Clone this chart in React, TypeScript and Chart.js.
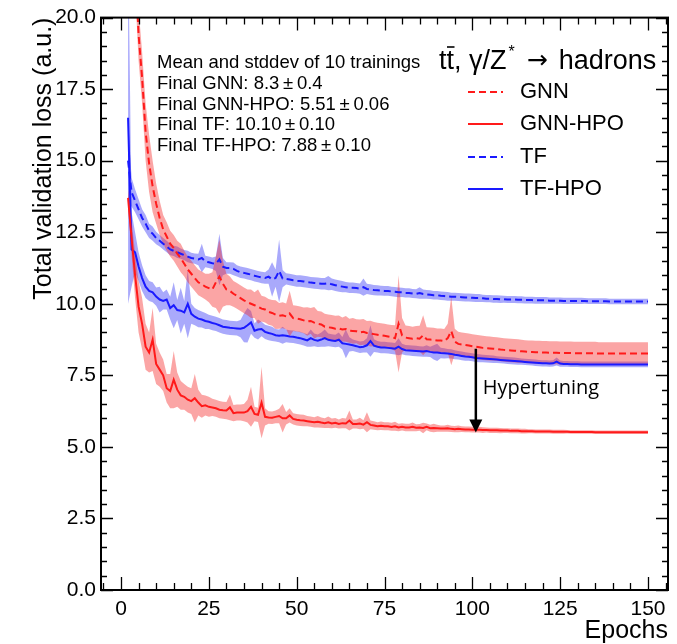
import React, { useEffect, useRef } from "react";
import { Chart, registerables } from "chart.js";

Chart.register(...registerables);

// ---------------- data ----------------
const epochs = [
  2, 3, 4, 5, 6, 7, 8, 9, 10, 11,
  12, 13, 14, 15, 16, 17, 18, 19, 20, 21,
  22, 23, 24, 25, 26, 27, 28, 29, 30, 31,
  32, 33, 34, 35, 36, 37, 38, 39, 40, 41,
  42, 43, 44, 45, 46, 47, 48, 49, 50, 51,
  52, 53, 54, 55, 56, 57, 58, 59, 60, 61,
  62, 63, 64, 65, 66, 67, 68, 69, 70, 71,
  72, 73, 74, 75, 76, 77, 78, 79, 80, 81,
  82, 83, 84, 85, 86, 87, 88, 89, 90, 91,
  92, 93, 94, 95, 96, 97, 98, 99, 100, 101,
  102, 103, 104, 105, 106, 107, 108, 109, 110, 111,
  112, 113, 114, 115, 116, 117, 118, 119, 120, 121,
  122, 123, 124, 125, 126, 127, 128, 129, 130, 131,
  132, 133, 134, 135, 136, 137, 138, 139, 140, 141,
  142, 143, 144, 145, 146, 147, 148, 149, 150,
];

// GNN (red dashed)
const gnnMean = [
  32, 26, 22, 19.4, 17.9, 16.0, 14.9, 14.1, 13.5, 13.0,
  12.6, 12.35, 12.1, 11.95, 11.75, 11.6, 11.4, 11.2, 11.05, 10.9,
  10.75, 10.68, 10.6, 10.55, 10.5, 10.75, 10.95, 10.7, 10.5, 10.45,
  10.35, 10.28, 10.2, 10.12, 10.05, 10.0, 9.95, 9.9, 9.83, 9.8,
  9.72, 9.68, 9.62, 9.58, 9.6, 9.56, 9.66, 9.5, 9.48, 9.46,
  9.42, 9.38, 9.4, 9.34, 9.3, 9.28, 9.2, 9.18, 9.16, 9.13,
  9.14, 9.1, 9.12, 9.06, 9.05, 9.04, 9.0, 9.02, 8.98, 8.96,
  8.94, 8.92, 8.9, 8.88, 8.86, 8.84, 8.8, 9.3, 8.9, 8.82,
  8.8, 8.78, 8.8, 8.78, 8.9, 8.76, 8.75, 8.74, 8.72, 8.72,
  8.7, 8.8, 9.05, 8.68, 8.6, 8.58, 8.56, 8.54, 8.52, 8.5,
  8.48, 8.46, 8.45, 8.44, 8.43, 8.42, 8.4, 8.39, 8.38, 8.37,
  8.36, 8.35, 8.34, 8.33, 8.32, 8.32, 8.31, 8.31, 8.3, 8.3,
  8.29, 8.29, 8.29, 8.28, 8.28, 8.28, 8.28, 8.27, 8.27, 8.27,
  8.27, 8.27, 8.27, 8.27, 8.26, 8.26, 8.26, 8.26, 8.26, 8.26,
  8.26, 8.26, 8.26, 8.26, 8.26, 8.26, 8.26, 8.26, 8.26,
];
const gnnStd = [
  1.5, 1.2, 1.0, 0.9, 0.9, 1.0, 1.0, 0.9, 0.7, 0.6,
  0.5, 0.5, 0.45, 0.45, 0.45, 0.5, 0.45, 0.45, 0.45, 0.45,
  0.45, 0.45, 0.45, 0.5, 0.6, 0.9, 1.3, 0.8, 0.55, 0.5,
  0.45, 0.45, 0.45, 0.45, 0.45, 0.5, 0.45, 0.6, 0.45, 0.45,
  0.45, 0.45, 0.5, 0.45, 0.45, 0.45, 0.8, 0.45, 0.45, 0.45,
  0.45, 0.5, 0.45, 0.55, 0.45, 0.45, 0.45, 0.45, 0.45, 0.45,
  0.45, 0.42, 0.45, 0.42, 0.45, 0.42, 0.45, 0.45, 0.42, 0.45,
  0.42, 0.42, 0.42, 0.42, 0.42, 0.42, 0.45, 1.7, 0.6, 0.42,
  0.42, 0.42, 0.42, 0.45, 0.7, 0.42, 0.42, 0.42, 0.42, 0.42,
  0.42, 0.5, 1.2, 0.45, 0.42, 0.42, 0.42, 0.42, 0.42, 0.42,
  0.42, 0.42, 0.42, 0.42, 0.41, 0.41, 0.41, 0.41, 0.41, 0.41,
  0.41, 0.41, 0.4, 0.4, 0.4, 0.4, 0.4, 0.4, 0.4, 0.4,
  0.4, 0.4, 0.4, 0.4, 0.4, 0.4, 0.4, 0.4, 0.4, 0.4,
  0.4, 0.4, 0.4, 0.4, 0.4, 0.4, 0.4, 0.4, 0.4, 0.4,
  0.4, 0.4, 0.4, 0.4, 0.4, 0.4, 0.4, 0.4, 0.4,
];

// GNN-HPO (red solid)
const gnnHpoMean = [
  13.7, 12.3, 11.0, 9.9, 9.3, 8.5, 8.3, 8.75, 7.9, 7.7,
  7.5, 7.05, 6.95, 7.35, 7.0, 6.8, 6.75, 6.65, 6.6, 6.7,
  6.55, 6.42, 6.45, 6.4, 6.38, 6.35, 6.3, 6.28, 6.27, 6.38,
  6.18, 6.2, 6.2, 6.2, 6.25, 6.4, 6.15, 6.12, 6.55, 6.05,
  6.03, 6.02, 6.05, 6.08, 6.0, 6.0, 6.1, 5.98, 5.95, 5.93,
  5.92, 5.9, 5.88, 5.86, 5.88, 5.85, 5.83, 5.86, 5.82, 5.84,
  5.8, 5.83, 5.82, 5.92, 5.8, 5.8, 5.82, 5.78, 5.86, 5.77,
  5.75, 5.72, 5.74, 5.72, 5.72, 5.7, 5.72, 5.68, 5.7, 5.68,
  5.68, 5.7, 5.67, 5.68, 5.66, 5.7, 5.65, 5.66, 5.65, 5.64,
  5.64, 5.65, 5.63, 5.62, 5.63, 5.62, 5.61, 5.61, 5.6, 5.6,
  5.6, 5.59, 5.59, 5.58, 5.58, 5.58, 5.57, 5.57, 5.57, 5.56,
  5.56, 5.56, 5.55, 5.55, 5.55, 5.55, 5.54, 5.54, 5.54, 5.54,
  5.54, 5.53, 5.53, 5.53, 5.53, 5.53, 5.52, 5.52, 5.52, 5.52,
  5.52, 5.52, 5.52, 5.51, 5.51, 5.51, 5.51, 5.51, 5.51, 5.51,
  5.51, 5.51, 5.51, 5.51, 5.51, 5.51, 5.51, 5.51, 5.51,
];
const gnnHpoStd = [
  0.3, 0.6, 0.8, 0.9, 0.9, 0.8, 0.7, 1.1, 0.7, 0.6,
  0.55, 0.5, 0.6, 1.0, 0.6, 0.5, 0.45, 0.45, 0.45, 0.85,
  0.45, 0.4, 0.35, 0.35, 0.3, 0.3, 0.3, 0.3, 0.3, 0.45,
  0.28, 0.28, 0.28, 0.3, 0.4, 0.7, 0.25, 0.25, 1.25, 0.3,
  0.22, 0.22, 0.22, 0.25, 0.5, 0.22, 0.25, 0.2, 0.2, 0.2,
  0.2, 0.18, 0.18, 0.18, 0.2, 0.18, 0.17, 0.2, 0.17, 0.17,
  0.16, 0.18, 0.17, 0.35, 0.16, 0.16, 0.2, 0.15, 0.35, 0.15,
  0.15, 0.14, 0.15, 0.14, 0.14, 0.14, 0.16, 0.13, 0.13, 0.13,
  0.13, 0.15, 0.12, 0.12, 0.18, 0.12, 0.12, 0.15, 0.12, 0.11,
  0.11, 0.12, 0.11, 0.11, 0.12, 0.1, 0.1, 0.1, 0.1, 0.1,
  0.1, 0.1, 0.09, 0.09, 0.09, 0.09, 0.09, 0.08, 0.08, 0.08,
  0.08, 0.08, 0.08, 0.08, 0.07, 0.07, 0.07, 0.07, 0.07, 0.07,
  0.07, 0.07, 0.07, 0.07, 0.07, 0.06, 0.06, 0.06, 0.06, 0.06,
  0.06, 0.06, 0.06, 0.06, 0.06, 0.06, 0.06, 0.06, 0.06, 0.06,
  0.06, 0.06, 0.06, 0.06, 0.06, 0.06, 0.06, 0.06, 0.06,
];

// TF (blue dashed)
const tfMean = [
  15.0, 13.9, 13.6, 13.3, 13.0, 12.8, 12.55, 12.45, 12.3, 12.2,
  12.1, 12.0, 11.9, 11.85, 11.8, 11.75, 11.7, 11.65, 11.6, 11.58,
  11.55, 11.6, 11.48, 11.45, 11.42, 11.4, 11.55, 11.3, 11.25, 11.25,
  11.22, 11.15, 11.1, 11.08, 11.05, 11.02, 10.98, 10.95, 10.92, 10.9,
  10.95, 10.85, 10.9, 11.15, 10.88, 10.87, 10.85, 10.82, 10.8, 10.8,
  10.78, 10.76, 10.74, 10.73, 10.72, 10.7, 10.7, 10.72, 10.68, 10.65,
  10.62, 10.6, 10.58, 10.56, 10.56, 10.55, 10.53, 10.58, 10.52, 10.5,
  10.48, 10.47, 10.46, 10.45, 10.45, 10.43, 10.42, 10.4, 10.4, 10.38,
  10.38, 10.36, 10.35, 10.38, 10.34, 10.33, 10.32, 10.3, 10.3, 10.28,
  10.27, 10.26, 10.25, 10.25, 10.24, 10.23, 10.22, 10.22, 10.21, 10.2,
  10.2, 10.19, 10.18, 10.18, 10.17, 10.17, 10.16, 10.16, 10.15, 10.15,
  10.15, 10.14, 10.14, 10.13, 10.13, 10.13, 10.12, 10.12, 10.12, 10.12,
  10.11, 10.11, 10.11, 10.11, 10.1, 10.1, 10.1, 10.1, 10.1, 10.1,
  10.1, 10.09, 10.09, 10.09, 10.09, 10.09, 10.09, 10.08, 10.08, 10.08,
  10.08, 10.08, 10.08, 10.08, 10.08, 10.08, 10.08, 10.08, 10.08,
];
const tfStd = [
  1.5, 0.5, 0.4, 0.35, 0.3, 0.3, 0.25, 0.25, 0.22, 0.2,
  0.2, 0.2, 0.2, 0.18, 0.2, 0.18, 0.18, 0.2, 0.18, 0.18,
  0.2, 0.5, 0.2, 0.2, 0.2, 0.25, 0.9, 0.3, 0.2, 0.2,
  0.22, 0.2, 0.2, 0.2, 0.2, 0.2, 0.2, 0.2, 0.2, 0.2,
  0.25, 0.6, 0.3, 1.1, 0.3, 0.2, 0.2, 0.2, 0.2, 0.2,
  0.2, 0.2, 0.2, 0.2, 0.2, 0.2, 0.2, 0.25, 0.2, 0.2,
  0.2, 0.2, 0.18, 0.18, 0.18, 0.18, 0.18, 0.3, 0.18, 0.18,
  0.18, 0.18, 0.17, 0.17, 0.17, 0.17, 0.17, 0.17, 0.16, 0.16,
  0.16, 0.16, 0.16, 0.2, 0.16, 0.15, 0.15, 0.15, 0.15, 0.15,
  0.15, 0.15, 0.14, 0.14, 0.14, 0.14, 0.14, 0.14, 0.14, 0.14,
  0.14, 0.13, 0.13, 0.13, 0.13, 0.13, 0.13, 0.12, 0.12, 0.12,
  0.12, 0.12, 0.12, 0.12, 0.12, 0.12, 0.12, 0.12, 0.12, 0.12,
  0.11, 0.11, 0.11, 0.11, 0.11, 0.11, 0.11, 0.11, 0.11, 0.11,
  0.1, 0.1, 0.1, 0.1, 0.1, 0.1, 0.1, 0.1, 0.1, 0.1,
  0.1, 0.1, 0.1, 0.1, 0.1, 0.1, 0.1, 0.1, 0.1,
];

// TF-HPO (blue solid)
const tfHpoMean = [
  16.5, 11.9, 11.8, 11.3, 10.9, 10.6, 10.45, 10.4, 10.25, 10.15,
  10.1, 10.15, 9.85, 9.95, 9.78, 9.76, 9.7, 10.0, 9.65, 9.55,
  9.48, 9.45, 9.4, 9.37, 9.33, 9.3, 9.25, 9.2, 9.18, 9.16,
  9.15, 9.14, 9.13, 9.16, 9.25, 9.35, 9.06, 9.1, 9.12, 9.02,
  8.98, 8.95, 8.9, 8.88, 8.9, 8.88, 8.86, 8.85, 8.82, 8.8,
  8.76, 8.72, 8.8, 8.74, 8.71, 8.75, 8.8, 8.74, 8.72, 8.7,
  8.75, 8.62, 8.6, 8.58, 8.55, 8.52, 8.48, 8.5, 8.55, 8.7,
  8.54, 8.5, 8.47, 8.47, 8.46, 8.45, 8.43, 8.5, 8.42, 8.38,
  8.37, 8.36, 8.35, 8.34, 8.33, 8.35, 8.32, 8.3, 8.3, 8.28,
  8.27, 8.26, 8.25, 8.22, 8.2, 8.18, 8.16, 8.15, 8.13, 8.11,
  8.1, 8.09, 8.08, 8.07, 8.06, 8.05, 8.04, 8.03, 8.02, 8.01,
  8.0, 7.99, 7.98, 7.97, 7.96, 7.95, 7.94, 7.93, 7.92, 7.92,
  7.91, 7.92, 7.98, 7.91, 7.9, 7.9, 7.89, 7.89, 7.89, 7.88,
  7.88, 7.88, 7.88, 7.88, 7.88, 7.88, 7.88, 7.88, 7.88, 7.88,
  7.88, 7.88, 7.88, 7.88, 7.88, 7.88, 7.88, 7.88, 7.88,
];
const tfHpoStd = [
  6.5, 1.3, 0.7, 0.5, 0.45, 0.4, 0.35, 0.35, 0.32, 0.45,
  0.3, 0.35, 0.4, 0.8, 0.35, 0.8, 0.4, 1.2, 0.35, 0.3,
  0.3, 0.28, 0.28, 0.25, 0.25, 0.25, 0.25, 0.25, 0.25, 0.25,
  0.25, 0.25, 0.3, 0.5, 0.6, 0.4, 0.25, 0.35, 0.25, 0.25,
  0.25, 0.25, 0.22, 0.22, 0.3, 0.22, 0.22, 0.22, 0.22, 0.22,
  0.22, 0.22, 0.3, 0.22, 0.22, 0.25, 0.3, 0.22, 0.22, 0.22,
  0.25, 0.22, 0.5, 0.25, 0.2, 0.2, 0.2, 0.2, 0.25, 0.55,
  0.22, 0.2, 0.2, 0.2, 0.2, 0.2, 0.2, 0.3, 0.18, 0.18,
  0.18, 0.18, 0.18, 0.18, 0.18, 0.2, 0.18, 0.25, 0.3, 0.18,
  0.18, 0.16, 0.16, 0.16, 0.15, 0.15, 0.15, 0.14, 0.14, 0.14,
  0.14, 0.13, 0.13, 0.13, 0.13, 0.12, 0.12, 0.12, 0.12, 0.12,
  0.12, 0.12, 0.11, 0.11, 0.11, 0.11, 0.11, 0.11, 0.11, 0.11,
  0.11, 0.11, 0.14, 0.11, 0.1, 0.1, 0.1, 0.1, 0.1, 0.1,
  0.1, 0.1, 0.1, 0.1, 0.1, 0.1, 0.1, 0.1, 0.1, 0.1,
  0.1, 0.1, 0.1, 0.1, 0.1, 0.1, 0.1, 0.1, 0.1,
];

const xTicks = [0, 25, 50, 75, 100, 125, 150];
const yTicks = [0, 2.5, 5, 7.5, 10, 12.5, 15, 17.5, 20];
const legendLabels = ["GNN", "GNN-HPO", "TF", "TF-HPO"];
const statsLines = [
  "Mean and stddev of 10 trainings",
  "Final GNN: 8.3\u2009\u00b1\u20090.4",
  "Final GNN-HPO: 5.51\u2009\u00b1\u20090.06",
  "Final TF: 10.10\u2009\u00b1\u20090.10",
  "Final TF-HPO: 7.88\u2009\u00b1\u20090.10",
];
const arrowEpoch = 101;
const arrowFrom = 8.43;
const arrowTo = 5.5;
const arrowLabel = "Hypertuning";
const xTitle = "Epochs";
const yTitle = "Total validation loss (a.u.)";

// ---------------- styles ----------------
const FONT = '"Liberation Sans", Arial, Helvetica, sans-serif';
const RED = "#ff1a1a";
const BLUE = "#1a1aff";
const RED_BAND = "rgba(245, 40, 40, 0.42)";
const BLUE_BAND = "rgba(40, 40, 245, 0.40)";
const DASH = [7, 4];

const pts = (vals: number[]) => epochs.map((e, i) => ({ x: e, y: vals[i] }));
const plus = (m: number[], s: number[]) => m.map((v, i) => v + s[i]);
const minus = (m: number[], s: number[]) => m.map((v, i) => v - s[i]);

const series = [
  { label: legendLabels[0], mean: gnnMean, std: gnnStd, color: RED, band: RED_BAND, dashed: true },
  { label: legendLabels[1], mean: gnnHpoMean, std: gnnHpoStd, color: RED, band: RED_BAND, dashed: false },
  { label: legendLabels[2], mean: tfMean, std: tfStd, color: BLUE, band: BLUE_BAND, dashed: true },
  { label: legendLabels[3], mean: tfHpoMean, std: tfHpoStd, color: BLUE, band: BLUE_BAND, dashed: false },
];

const decorPlugin = {
  id: "decor",
  afterDatasetsDraw(chart: any) {
    const { ctx, chartArea: a, scales } = chart;
    const x = scales.x;
    const y = scales.y;
    ctx.save();

    // frame
    ctx.strokeStyle = "#000";
    ctx.lineWidth = 2;
    ctx.strokeRect(a.left, a.top, a.right - a.left, a.bottom - a.top);

    // ticks (inside, all four sides)
    ctx.lineWidth = 1.3;
    ctx.beginPath();
    for (let v = -5; v <= 155; v += 5) {
      const px = Math.round(x.getPixelForValue(v)) + 0.5;
      if (px < a.left || px > a.right) continue;
      const len = v % 25 === 0 ? 13 : 7;
      ctx.moveTo(px, a.bottom);
      ctx.lineTo(px, a.bottom - len);
      ctx.moveTo(px, a.top);
      ctx.lineTo(px, a.top + len);
    }
    for (let i = 0; i <= 40; i++) {
      const v = i * 0.5;
      const py = Math.round(y.getPixelForValue(v)) + 0.5;
      const len = i % 5 === 0 ? 12 : 6;
      ctx.moveTo(a.left, py);
      ctx.lineTo(a.left + len, py);
      ctx.moveTo(a.right, py);
      ctx.lineTo(a.right - len, py);
    }
    ctx.stroke();

    ctx.fillStyle = "#000";

    // axis titles
    ctx.font = `25px ${FONT}`;
    ctx.textAlign = "right";
    ctx.textBaseline = "alphabetic";
    ctx.fillText(xTitle, a.right, 638);
    ctx.save();
    ctx.translate(51, a.top);
    ctx.rotate(-Math.PI / 2);
    ctx.textAlign = "right";
    ctx.fillText(yTitle, 0, 0);
    ctx.restore();

    // stats block
    ctx.font = `18.5px ${FONT}`;
    ctx.textAlign = "left";
    ctx.textBaseline = "middle";
    const statY = [63, 84, 105, 125, 146];
    statsLines.forEach((t, i) => ctx.fillText(t, 157, statY[i]));

    // legend header: t tbar, gamma/Z* -> hadrons
    const hx = 439;
    const hy = 69;
    ctx.textBaseline = "alphabetic";
    ctx.font = `27px ${FONT}`;
    const wt = ctx.measureText("t").width;
    ctx.fillText("tt", hx, hy);
    ctx.lineWidth = 1.6;
    ctx.beginPath();
    ctx.moveTo(hx + wt + 0.5, hy - 22);
    ctx.lineTo(hx + 2 * wt + 0.5, hy - 22);
    ctx.stroke();
    let cx = hx + ctx.measureText("tt").width;
    const seg1 = ", \u03b3/Z";
    ctx.fillText(seg1, cx, hy);
    cx += ctx.measureText(seg1).width + 2;
    ctx.font = `16px ${FONT}`;
    ctx.fillText("*", cx, hy - 12);
    cx += ctx.measureText("*").width + 12;
    ctx.font = `25px "DejaVu Sans", sans-serif`;
    ctx.fillText("\u2192", cx, hy - 1);
    cx += ctx.measureText("\u2192").width + 11;
    ctx.font = `27px ${FONT}`;
    ctx.fillText("hadrons", cx, hy);

    // legend entries
    const legY = [92, 124, 157, 189];
    series.forEach((s, i) => {
      ctx.strokeStyle = s.color;
      ctx.lineWidth = 2;
      ctx.setLineDash(s.dashed ? DASH : []);
      ctx.beginPath();
      ctx.moveTo(468, legY[i]);
      ctx.lineTo(503, legY[i]);
      ctx.stroke();
      ctx.setLineDash([]);
      ctx.font = `22px ${FONT}`;
      ctx.textBaseline = "middle";
      ctx.textAlign = "left";
      ctx.fillText(s.label, 520, legY[i]);
    });

    // hypertuning arrow
    const ax = x.getPixelForValue(arrowEpoch);
    const ay1 = y.getPixelForValue(arrowFrom);
    const ay2 = y.getPixelForValue(arrowTo);
    ctx.strokeStyle = "#000";
    ctx.lineWidth = 2.5;
    ctx.beginPath();
    ctx.moveTo(ax, ay1);
    ctx.lineTo(ax, ay2 - 11);
    ctx.stroke();
    ctx.beginPath();
    ctx.moveTo(ax - 6.5, ay2 - 13);
    ctx.lineTo(ax + 6.5, ay2 - 13);
    ctx.lineTo(ax, ay2);
    ctx.closePath();
    ctx.fill();
    ctx.font = `20px "Open Sans", "Noto Sans", sans-serif`;
    ctx.textBaseline = "alphabetic";
    ctx.fillText(arrowLabel, ax + 7, 394);

    ctx.restore();
  },
};

export default function App() {
  const ref = useRef<HTMLCanvasElement | null>(null);

  useEffect(() => {
    if (!ref.current) return;
    const bandSets: any[] = [];
    series.forEach((s, i) => {
      bandSets.push({
        data: pts(plus(s.mean, s.std)),
        borderColor: "transparent",
        borderWidth: 0,
        pointRadius: 0,
        fill: i * 2 + 1,
        backgroundColor: s.band,
        order: 2,
        tension: 0,
      });
      bandSets.push({
        data: pts(minus(s.mean, s.std)),
        borderColor: "transparent",
        borderWidth: 0,
        pointRadius: 0,
        fill: false,
        order: 2,
        tension: 0,
      });
    });
    const lineSets = series.map((s) => ({
      label: s.label,
      data: pts(s.mean),
      borderColor: s.color,
      borderWidth: 2,
      borderDash: s.dashed ? DASH : [],
      pointRadius: 0,
      fill: false,
      order: 0,
      tension: 0,
    }));

    const chart = new Chart(ref.current, {
      type: "line",
      data: { datasets: [...bandSets, ...lineSets] },
      options: {
        animation: false,
        responsive: false,
        events: [],
        layout: { padding: { top: 16, right: 9, left: 0, bottom: 0 } },
        plugins: { legend: { display: false }, tooltip: { enabled: false } },
        scales: {
          x: {
            type: "linear",
            min: -5.7,
            max: 155.7,
            grid: { display: false, drawTicks: false },
            border: { display: false },
            ticks: {
              color: "#000",
              font: { family: FONT, size: 21 },
              padding: 7,
              maxRotation: 0,
              autoSkip: false,
            },
            afterBuildTicks: (s: any) => {
              s.ticks = xTicks.map((v) => ({ value: v }));
            },
            afterFit: (s: any) => {
              s.height = 54;
            },
          },
          y: {
            type: "linear",
            min: 0,
            max: 20,
            grid: { display: false, drawTicks: false },
            border: { display: false },
            ticks: {
              color: "#000",
              font: { family: FONT, size: 21 },
              padding: 5,
              callback: (v: any) => Number(v).toFixed(1),
            },
            afterBuildTicks: (s: any) => {
              s.ticks = yTicks.map((v) => ({ value: v }));
            },
            afterFit: (s: any) => {
              s.width = 101;
            },
          },
        },
      },
      plugins: [decorPlugin],
    } as any);
    return () => chart.destroy();
  }, []);

  return (
    <div style={{ position: "absolute", left: 0, top: 0, width: 677, height: 644, background: "#fff" }}>
      <canvas ref={ref} width={677} height={644} />
    </div>
  );
}
